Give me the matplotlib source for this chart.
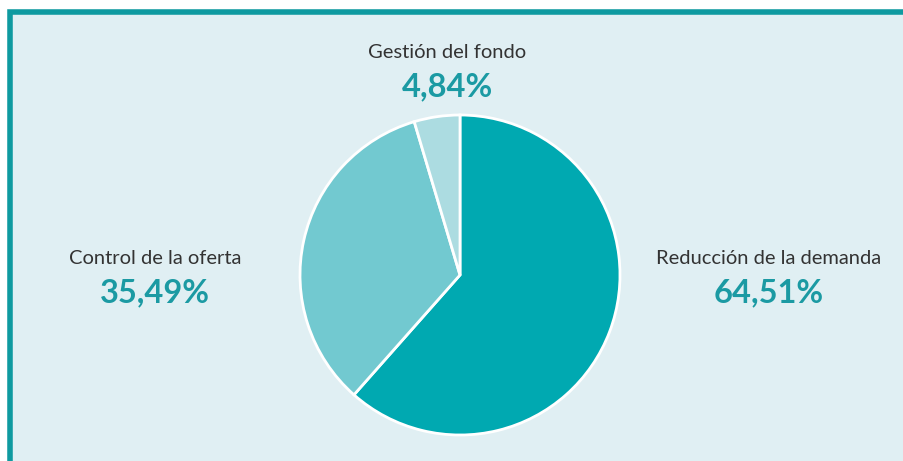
import matplotlib.pyplot as plt
from matplotlib.patches import Rectangle

# Datos
etiquetas = ['Reducción de la demanda', 'Control de la oferta', 'Gestión del fondo']
valores = [64.51, 35.49, 4.84]
textos_pct = ['64,51%', '35,49%', '4,84%']
colores = ['#00a9b1', '#72c9d0', '#acdce1']

W, H = 904, 461
fig = plt.figure(figsize=(W / 100, H / 100), dpi=100, facecolor='white')

# Panel de fondo con borde
fig.patches.append(Rectangle((9.5 / W, -0.1), 1.1, 1 - 12.5 / H + 0.1,
                             transform=fig.transFigure, facecolor='#e0eff3',
                             edgecolor='#0e9aa0', linewidth=4, zorder=0))

# Eje de la tarta
ax = fig.add_axes([275 / W, 0, 372 / W, 373 / H], zorder=2)
ax.set_facecolor('#e3f2f6')
ax.pie(valores, colors=colores, startangle=90, counterclock=False,
       wedgeprops=dict(edgecolor='white', linewidth=2))
ax.set_xlim(-185 / 160, 187 / 160)
ax.set_ylim(-186 / 160, 187 / 160)
ax.set_aspect('equal')
ax.set_xticks([])
ax.set_yticks([])
for s in ax.spines.values():
    s.set_visible(False)

# Etiquetas
posiciones = [(769, 259, 293), (155, 259, 293), (447, 52, 87)]
for etiqueta, pct, (x, y1, y2) in zip(etiquetas, textos_pct, posiciones):
    fig.text(x / W, 1 - y1 / H, etiqueta, ha='center', va='center',
             fontsize=14.5, color='#333333', family='Lato', zorder=3)
    fig.text(x / W, 1 - y2 / H, pct, ha='center', va='center',
             fontsize=23.5, fontweight='bold', color='#1b9aa3', family='Lato',
             zorder=3)

fig.savefig('out.png', dpi=100, facecolor='white')
